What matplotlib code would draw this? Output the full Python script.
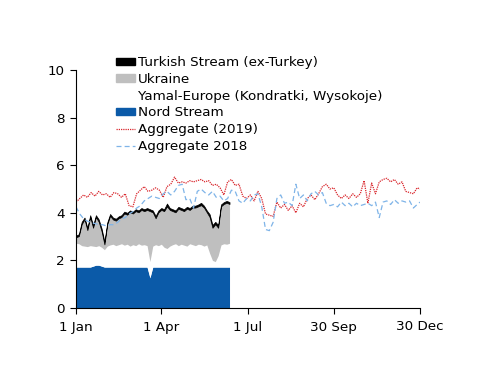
import numpy as np
import matplotlib
matplotlib.use("Agg")
import matplotlib.pyplot as plt
from matplotlib.patches import Patch
from matplotlib.lines import Line2D

# ---------------- data ----------------
stack_days = list(range(0, 163, 3))  # 0..162

nord_stream = [1.72, 1.72, 1.72, 1.72, 1.72, 1.72, 1.76, 1.80, 1.80, 1.76,
               1.72, 1.72, 1.72, 1.72, 1.72, 1.72, 1.72, 1.72, 1.72, 1.72,
               1.72, 1.72, 1.72, 1.72, 1.72, 1.72, 1.27, 1.72, 1.72, 1.72,
               1.72, 1.72, 1.72, 1.72, 1.72, 1.72, 1.72, 1.72, 1.72, 1.72,
               1.72, 1.72, 1.72, 1.72, 1.72, 1.72, 1.72, 1.72, 1.72, 1.72,
               1.72, 1.72, 1.72, 1.72, 1.72]

yamal = [1.00, 0.98, 0.90, 0.88, 0.86, 0.90, 0.84, 0.78, 0.82, 0.79,
         0.73, 0.88, 0.93, 0.96, 0.90, 0.94, 0.98, 0.92, 0.96, 0.88,
         0.94, 0.90, 0.98, 0.92, 0.94, 0.90, 0.68, 0.88, 0.94, 0.90,
         0.96, 0.83, 0.78, 0.88, 0.94, 0.98, 0.90, 0.96, 0.92, 0.88,
         0.98, 0.94, 0.90, 0.96, 0.94, 0.88, 0.93, 0.58, 0.28, 0.23,
         0.48, 0.93, 0.98, 0.96, 1.00]

ukraine = [0.25, 0.32, 0.90, 1.12, 0.69, 1.20, 0.77, 1.24, 1.00, 0.67,
           0.22, 0.92, 1.22, 1.04, 1.05, 1.11, 1.12, 1.33, 1.24, 1.42,
           1.31, 1.45, 1.32, 1.48, 1.41, 1.50, 2.12, 1.42, 1.11, 1.40,
           1.44, 1.52, 1.77, 1.52, 1.41, 1.32, 1.55, 1.44, 1.43, 1.57,
           1.42, 1.56, 1.60, 1.59, 1.66, 1.62, 1.37, 1.52, 1.37, 1.57,
           1.17, 1.62, 1.67, 1.74, 1.65]

turkish = [0.08, 0.08, 0.10, 0.08, 0.10, 0.08, 0.10, 0.08, 0.10, 0.12,
           0.12, 0.08, 0.08, 0.08, 0.08, 0.08, 0.08, 0.08, 0.08, 0.08,
           0.08, 0.08, 0.08, 0.08, 0.08, 0.08, 0.08, 0.08, 0.10, 0.08,
           0.08, 0.08, 0.12, 0.08, 0.08, 0.08, 0.08, 0.08, 0.08, 0.08,
           0.08, 0.08, 0.08, 0.08, 0.10, 0.08, 0.08, 0.12, 0.12, 0.10,
           0.12, 0.08, 0.08, 0.08, 0.08]

agg_days = list(range(0, 361, 4)) + [363]

aggregate_2019 = [4.45, 4.60, 4.75, 4.65, 4.85, 4.70, 4.90, 4.75, 4.80, 4.65,
                  4.85, 4.80, 4.65, 4.80, 4.30, 4.25, 4.80, 4.95, 5.10, 4.90,
                  4.95, 5.05, 4.95, 4.65, 5.10, 5.20, 5.50, 5.25, 5.30, 5.25,
                  5.35, 5.30, 5.35, 5.40, 5.30, 5.35, 5.15, 5.20, 5.05, 4.75,
                  5.30, 5.40, 5.15, 5.20, 4.70, 4.60, 4.75, 4.50, 4.90, 4.60,
                  3.95, 3.90, 3.85, 4.45, 4.20, 4.35, 4.10, 4.30, 4.00, 4.40,
                  4.25, 4.60, 4.75, 4.55, 4.80, 5.10, 5.20, 5.00, 5.05, 4.75,
                  4.60, 4.75, 4.60, 4.80, 4.65, 4.80, 5.35, 4.40, 5.25, 4.80,
                  5.30, 5.40, 5.45, 5.30, 5.40, 5.20, 5.30, 4.90, 4.85, 4.80,
                  5.05, 5.00]

aggregate_2018 = [4.25, 3.95, 3.75, 3.65, 3.60, 3.55, 3.50, 3.50, 3.45, 3.50,
                  3.50, 3.60, 3.75, 3.80, 3.95, 4.05, 4.20, 4.30, 4.50, 4.60,
                  4.70, 4.65, 4.60, 4.80, 4.90, 4.75, 4.90, 5.15, 5.20, 4.55,
                  4.60, 4.20, 4.90, 5.00, 4.85, 4.75, 4.90, 4.65, 4.70, 4.50,
                  4.60, 4.95, 4.90, 4.50, 4.40, 4.60, 4.50, 4.75, 4.80, 4.25,
                  3.30, 3.25, 3.60, 4.60, 4.75, 4.40, 4.45, 4.30, 5.20, 4.60,
                  4.75, 4.50, 4.80, 4.90, 4.75, 4.85, 4.40, 4.30, 4.35, 4.25,
                  4.45, 4.30, 4.40, 4.25, 4.40, 4.30, 4.35, 4.40, 4.30, 4.45,
                  3.80, 4.45, 4.50, 4.35, 4.55, 4.40, 4.50, 4.45, 4.50, 4.20,
                  4.35, 4.45]

tick_days = [0, 90, 181, 272, 363]
tick_labels = ["1 Jan", "1 Apr", "1 Jul", "30 Sep", "30 Dec"]

labels = ["Turkish Stream (ex-Turkey)", "Ukraine",
          "Yamal-Europe (Kondratki, Wysokoje)", "Nord Stream",
          "Aggregate (2019)", "Aggregate 2018"]

# ---------------- style ----------------
c_nord = "#0b5aa8"
c_ukr = "#bfbfbf"
c_turk = "#000000"
c_red = "#d9262c"
c_blue = "#7fb4e8"

plt.rcParams["font.family"] = ["DejaVu Sans"]
plt.rcParams["font.size"] = 9.7

fig = plt.figure(figsize=(5.0, 3.86), dpi=100)
ax = fig.add_axes([76 / 500, 1 - 308 / 386, 344 / 500, 238 / 386])

x = np.array(stack_days)
l1 = np.array(nord_stream)
l2 = l1 + np.array(yamal)
l3 = l2 + np.array(ukraine)
l4 = l3 + np.array(turkish)

ax.fill_between(x, 0, l1, color=c_nord, lw=0)
ax.fill_between(x, l1, l2, color="white", lw=0)
ax.fill_between(x, l2, l3, color=c_ukr, lw=0)
ax.fill_between(x, l3, l4, color=c_turk, lw=0.5, edgecolor=c_turk)

ax.plot(agg_days, aggregate_2019, color=c_red, lw=0.9, ls=(0, (1, 0.8)))
ax.plot(agg_days, aggregate_2018, color=c_blue, lw=0.9, ls=(0, (4, 2.5)))

ax.set_xlim(0, 363)
ax.set_ylim(0, 10)
ax.set_yticks([0, 2, 4, 6, 8, 10])
ax.set_xticks(tick_days)
ax.set_xticklabels(tick_labels)
for s in ["top", "right"]:
    ax.spines[s].set_visible(False)
ax.tick_params(direction="out", length=4, width=0.8)
ax.tick_params(axis="x", pad=5)
ax.tick_params(axis="y", pad=4)

handles = [Patch(color=c_turk), Patch(color=c_ukr), Patch(color="white"),
           Patch(color=c_nord),
           Line2D([], [], color=c_red, lw=0.9, ls=(0, (1, 0.8))),
           Line2D([], [], color=c_blue, lw=0.9, ls=(0, (4, 2.5)))]
fig.legend(handles, labels, loc="upper left",
           bbox_to_anchor=(116 / 500, 1 - 56 / 386), frameon=False,
           handlelength=1.4, handleheight=0.45, handletextpad=0.2,
           labelspacing=0.28, borderpad=0, borderaxespad=0)

fig.savefig("out.png", dpi=100)
